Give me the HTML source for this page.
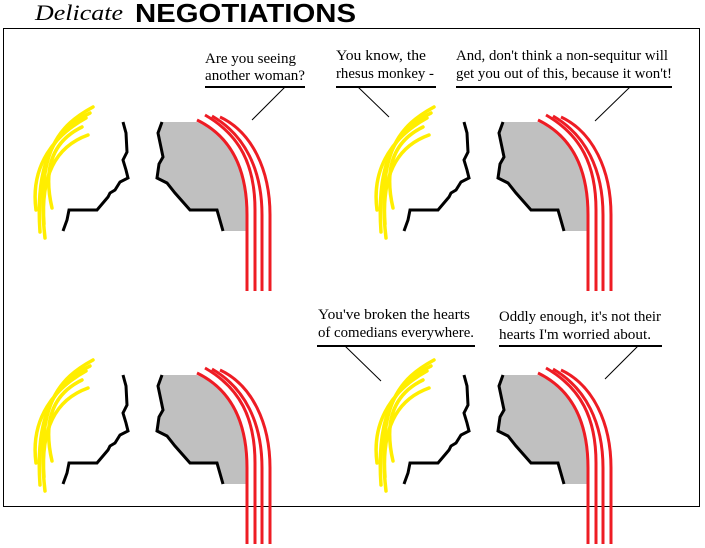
<!DOCTYPE html>
<html><head><meta charset="utf-8"><style>
html,body{margin:0;padding:0;background:#fff;width:705px;height:548px;overflow:hidden}
svg{display:block}
text{font-family:"Liberation Serif",serif;font-size:15px;fill:#000}
</style></head><body>
<svg width="705" height="548" viewBox="0 0 705 548" xmlns="http://www.w3.org/2000/svg">
<defs>
<g id="p">
<g fill="none" stroke="#ffee00" stroke-width="3.5" stroke-linecap="round">
<path d="M93,107 C60,125 35,150 45,238"/>
<path d="M90,113 C55,130 35,160 40,232"/>
<path d="M82,127 C55,140 42,165 52,208"/>
<path d="M88,135 C60,145 40,170 44,224"/>
<path d="M86,118 C55,135 30,165 36,210"/>
</g>
<path d="M162,122 L158,133 L163,157 L159,164 L157,178 L167,183 L175,193 L190,210 L217,210 L223,231 L246,231 L246,215 C246,165 228,135 197,122 Z" fill="#c0c0c0"/>
<g fill="none" stroke="#000" stroke-width="3" stroke-linejoin="miter">
<path d="M123,122 L126,133 L127,152 L123,160 L126,170 L128,178 L120,182 L115,190 L110,193 L108,197 L97,210 L69,210 L67,220 L63,231"/>
<path d="M162,122 L158,133 L163,157 L159,164 L157,178 L167,183 L175,193 L190,210 L217,210 L223,231"/>
</g>
<g fill="none" stroke="#ee1c24" stroke-width="3">
<path d="M197,120 C228,135 247,165 247,215 L247,291"/>
<path d="M205,115 C240,135 255,165 255,210 L255,291"/>
<path d="M212,116 C245,135 262,170 262,215 L262,291"/>
<path d="M220,117 C252,132 270,170 270,215 L270,291"/>
</g>
</g>
</defs>
<rect x="3.5" y="28.5" width="696" height="478" fill="none" stroke="#000" stroke-width="1"/>
<use href="#p"/>
<use href="#p" x="341" y="0"/>
<use href="#p" x="0" y="253"/>
<use href="#p" x="341" y="253"/>
<!-- title -->
<text x="35" y="20" style="font-family:'Liberation Serif',serif;font-style:italic;font-size:22px;fill:#000" textLength="88" lengthAdjust="spacingAndGlyphs">Delicate</text>
<text x="135" y="22" style="font-family:'Liberation Sans',sans-serif;font-weight:bold;font-size:26px;fill:#000" textLength="221" lengthAdjust="spacingAndGlyphs">NEGOTIATIONS</text>
<!-- bubbles -->
<g stroke="#000" fill="none">
<line x1="205" y1="87" x2="305" y2="87" stroke-width="2"/>
<line x1="285" y1="87" x2="252" y2="120" stroke-width="1"/>
<line x1="336" y1="87" x2="436" y2="87" stroke-width="2"/>
<line x1="358" y1="87" x2="389" y2="117" stroke-width="1"/>
<line x1="456" y1="87" x2="672" y2="87" stroke-width="2"/>
<line x1="630" y1="87" x2="595" y2="121" stroke-width="1"/>
<line x1="317" y1="346" x2="475" y2="346" stroke-width="2"/>
<line x1="345" y1="346" x2="381" y2="381" stroke-width="1"/>
<line x1="499" y1="346" x2="662" y2="346" stroke-width="2"/>
<line x1="638" y1="346" x2="605" y2="379" stroke-width="1"/>
</g>
<text x="205" y="63" textLength="91" lengthAdjust="spacingAndGlyphs">Are you seeing</text>
<text x="205" y="80" textLength="100" lengthAdjust="spacingAndGlyphs">another woman?</text>
<text x="336" y="60" textLength="90" lengthAdjust="spacingAndGlyphs">You know, the</text>
<text x="336" y="78" textLength="98" lengthAdjust="spacingAndGlyphs">rhesus monkey -</text>
<text x="456" y="60" textLength="212" lengthAdjust="spacingAndGlyphs">And, don't think a non-sequitur will</text>
<text x="456" y="78" textLength="216" lengthAdjust="spacingAndGlyphs">get you out of this, because it won't!</text>
<text x="318" y="319" textLength="152" lengthAdjust="spacingAndGlyphs">You've broken the hearts</text>
<text x="318" y="337" textLength="156" lengthAdjust="spacingAndGlyphs">of comedians everywhere.</text>
<text x="499" y="321" textLength="162" lengthAdjust="spacingAndGlyphs">Oddly enough, it's not their</text>
<text x="499" y="339" textLength="152" lengthAdjust="spacingAndGlyphs">hearts I'm worried about.</text>
</svg>
</body></html>
